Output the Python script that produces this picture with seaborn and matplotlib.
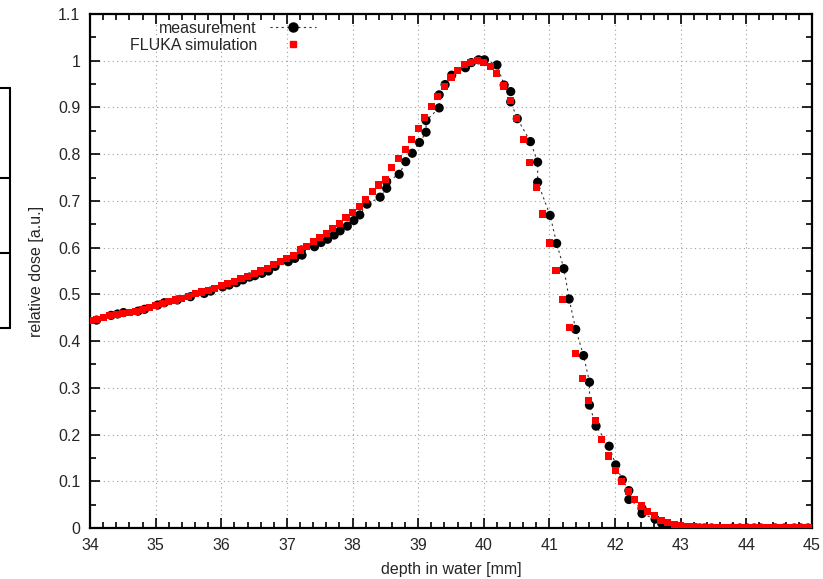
import numpy as np
import pandas as pd
import matplotlib
matplotlib.use("Agg")
import matplotlib.pyplot as plt
from matplotlib.lines import Line2D
from matplotlib.ticker import MultipleLocator
import seaborn as sns

# measured depth-dose curve (black dots, dotted line)
meas_depth = [34.10, 34.32, 34.42, 34.51, 34.73, 34.83, 35.03, 35.13, 35.33, 35.53,
              35.74, 35.84, 36.02, 36.12, 36.23, 36.33, 36.43, 36.51, 36.62, 36.72,
              36.82, 37.02, 37.12, 37.23, 37.22, 37.42, 37.52, 37.62, 37.72, 37.81,
              37.92, 38.02, 38.11, 38.22, 38.42, 38.52, 38.52, 38.71, 38.81, 38.91,
              39.02, 39.12, 39.12, 39.32, 39.32, 39.41, 39.51, 39.72, 39.81, 39.92,
              40.01, 40.20, 40.31, 40.41, 40.41, 40.51, 40.71, 40.82, 40.82, 41.01,
              41.11, 41.22, 41.30, 41.40, 41.52, 41.61, 41.61, 41.71, 41.91, 42.01,
              42.11, 42.21, 42.21, 42.41, 42.41, 42.61, 42.71, 42.81, 43.04, 43.22,
              43.29, 43.36, 43.47, 43.79, 43.90, 44.01, 44.12, 44.22, 44.44, 44.58,
              44.73, 44.83, 44.94]
meas_dose = [0.445, 0.455, 0.458, 0.461, 0.464, 0.468, 0.477, 0.482, 0.488, 0.495,
             0.502, 0.507, 0.516, 0.520, 0.525, 0.531, 0.537, 0.540, 0.545, 0.550,
             0.560, 0.570, 0.577, 0.584, 0.595, 0.602, 0.611, 0.618, 0.627, 0.636,
             0.646, 0.658, 0.670, 0.693, 0.708, 0.727, 0.741, 0.757, 0.784, 0.802,
             0.825, 0.847, 0.872, 0.899, 0.927, 0.949, 0.969, 0.985, 0.996, 1.002,
             1.002, 0.991, 0.948, 0.934, 0.912, 0.876, 0.827, 0.783, 0.740, 0.669,
             0.609, 0.555, 0.490, 0.425, 0.369, 0.312, 0.263, 0.218, 0.175, 0.135,
             0.103, 0.080, 0.061, 0.042, 0.031, 0.019, 0.010, 0.003, 0.001, 0.001,
             0.000, 0.000, 0.000, 0.000, 0.000, 0.000, 0.000, 0.000, 0.000, 0.000,
             0.000, 0.000, 0.000]

# FLUKA simulation, 0.1 mm bins from 34.0 to 45.0 (red squares)
sim_depth = [round(34.0 + 0.1 * i, 1) for i in range(111)]
sim_dose = [0.444, 0.447, 0.450, 0.454, 0.457, 0.459, 0.462, 0.464, 0.468, 0.472,
            0.477, 0.481, 0.484, 0.488, 0.492, 0.496, 0.501, 0.505, 0.509, 0.513,
            0.518, 0.524, 0.527, 0.533, 0.539, 0.545, 0.550, 0.556, 0.563, 0.571,
            0.577, 0.584, 0.595, 0.603, 0.613, 0.622, 0.631, 0.641, 0.652, 0.665,
            0.676, 0.689, 0.703, 0.720, 0.734, 0.746, 0.771, 0.791, 0.810, 0.832,
            0.855, 0.879, 0.903, 0.923, 0.944, 0.964, 0.980, 0.991, 0.997, 1.000,
            0.997, 0.987, 0.972, 0.946, 0.914, 0.877, 0.832, 0.783, 0.729, 0.672,
            0.610, 0.551, 0.489, 0.430, 0.374, 0.320, 0.272, 0.230, 0.190, 0.154,
            0.124, 0.099, 0.078, 0.061, 0.047, 0.035, 0.026, 0.017, 0.011, 0.008,
            0.005, 0.004, 0.003, 0.002, 0.002, 0.001, 0.001, 0.001, 0.001, 0.001,
            0.001, 0.001, 0.001, 0.000, 0.000, 0.000, 0.000, 0.000, 0.000, 0.000,
            0.000]

meas = pd.DataFrame({"depth": meas_depth, "dose": meas_dose})
sim = pd.DataFrame({"depth": sim_depth, "dose": sim_dose})

sns.set_style("ticks")
plt.rcParams["font.family"] = ["Liberation Sans", "DejaVu Sans"]
plt.rcParams["font.size"] = 11.5

fig = plt.figure(figsize=(8.23, 5.79), dpi=100)
ax = fig.add_axes([0.1094, 0.0881, 0.8772, 0.8877])

# measurement: dotted connecting line + black dots
sns.lineplot(data=meas, x="depth", y="dose", estimator=None, sort=False,
             color="#333333", linestyle=(0, (2, 3)), linewidth=0.8, ax=ax, zorder=3)
sns.scatterplot(data=meas, x="depth", y="dose", color="black", s=44,
                edgecolor="none", marker="o", ax=ax, zorder=4)
# simulation on top
sns.scatterplot(data=sim, x="depth", y="dose", color="#ff0000", s=26,
                edgecolor="none", marker="s", ax=ax, zorder=5)

ax.set_xlim(34, 45)
ax.set_ylim(0, 1.1)
ax.xaxis.set_major_locator(MultipleLocator(1))
ax.xaxis.set_minor_locator(MultipleLocator(0.2))
ax.yaxis.set_major_locator(MultipleLocator(0.1))
ax.yaxis.set_minor_locator(MultipleLocator(0.05))
ax.set_xticklabels([f"{v:g}" for v in ax.get_xticks()])
ax.set_yticklabels([f"{v:g}" for v in np.round(ax.get_yticks(), 2)])
ax.tick_params(which="both", direction="in", top=True, right=True, color="black", width=1.2)
ax.tick_params(which="major", length=7, pad=7, labelsize=11.5)
ax.tick_params(which="minor", length=4)
for sp in ax.spines.values():
    sp.set_linewidth(1.6)
    sp.set_color("black")
ax.grid(True, which="major", color="#a0a0a0", linestyle=(0, (1, 3)), linewidth=0.8)
ax.set_axisbelow(True)

ax.set_xlabel("depth in water [mm]", fontsize=11.5, labelpad=7)
ax.set_ylabel("relative dose [a.u.]", fontsize=11.5, labelpad=10)

handles = [
    Line2D([], [], color="#333333", linestyle=(0, (2, 3)), linewidth=0.8,
           marker="o", markersize=6.5, markerfacecolor="black", markeredgecolor="black"),
    Line2D([], [], linestyle="none", marker="s", markersize=5,
           markerfacecolor="#ff0000", markeredgecolor="#ff0000"),
]
ax.legend(handles, ["measurement", "FLUKA simulation"], loc="upper left",
          bbox_to_anchor=(0.035, 1.015), frameon=False, markerfirst=False,
          handlelength=2.9, handletextpad=0.8, labelspacing=0.15, fontsize=11.5)

# bracket remnant at the left edge of the figure
W, H = 823, 579
def fline(x0, y0, x1, y1):
    fig.add_artist(Line2D([x0 / W, x1 / W], [1 - y0 / H, 1 - y1 / H],
                          transform=fig.transFigure, color="black", linewidth=1.5))
fline(10, 88, 10, 328)
for yy in (88, 178, 253, 328):
    fline(0, yy, 10, yy)

fig.savefig("out.png", dpi=100)
